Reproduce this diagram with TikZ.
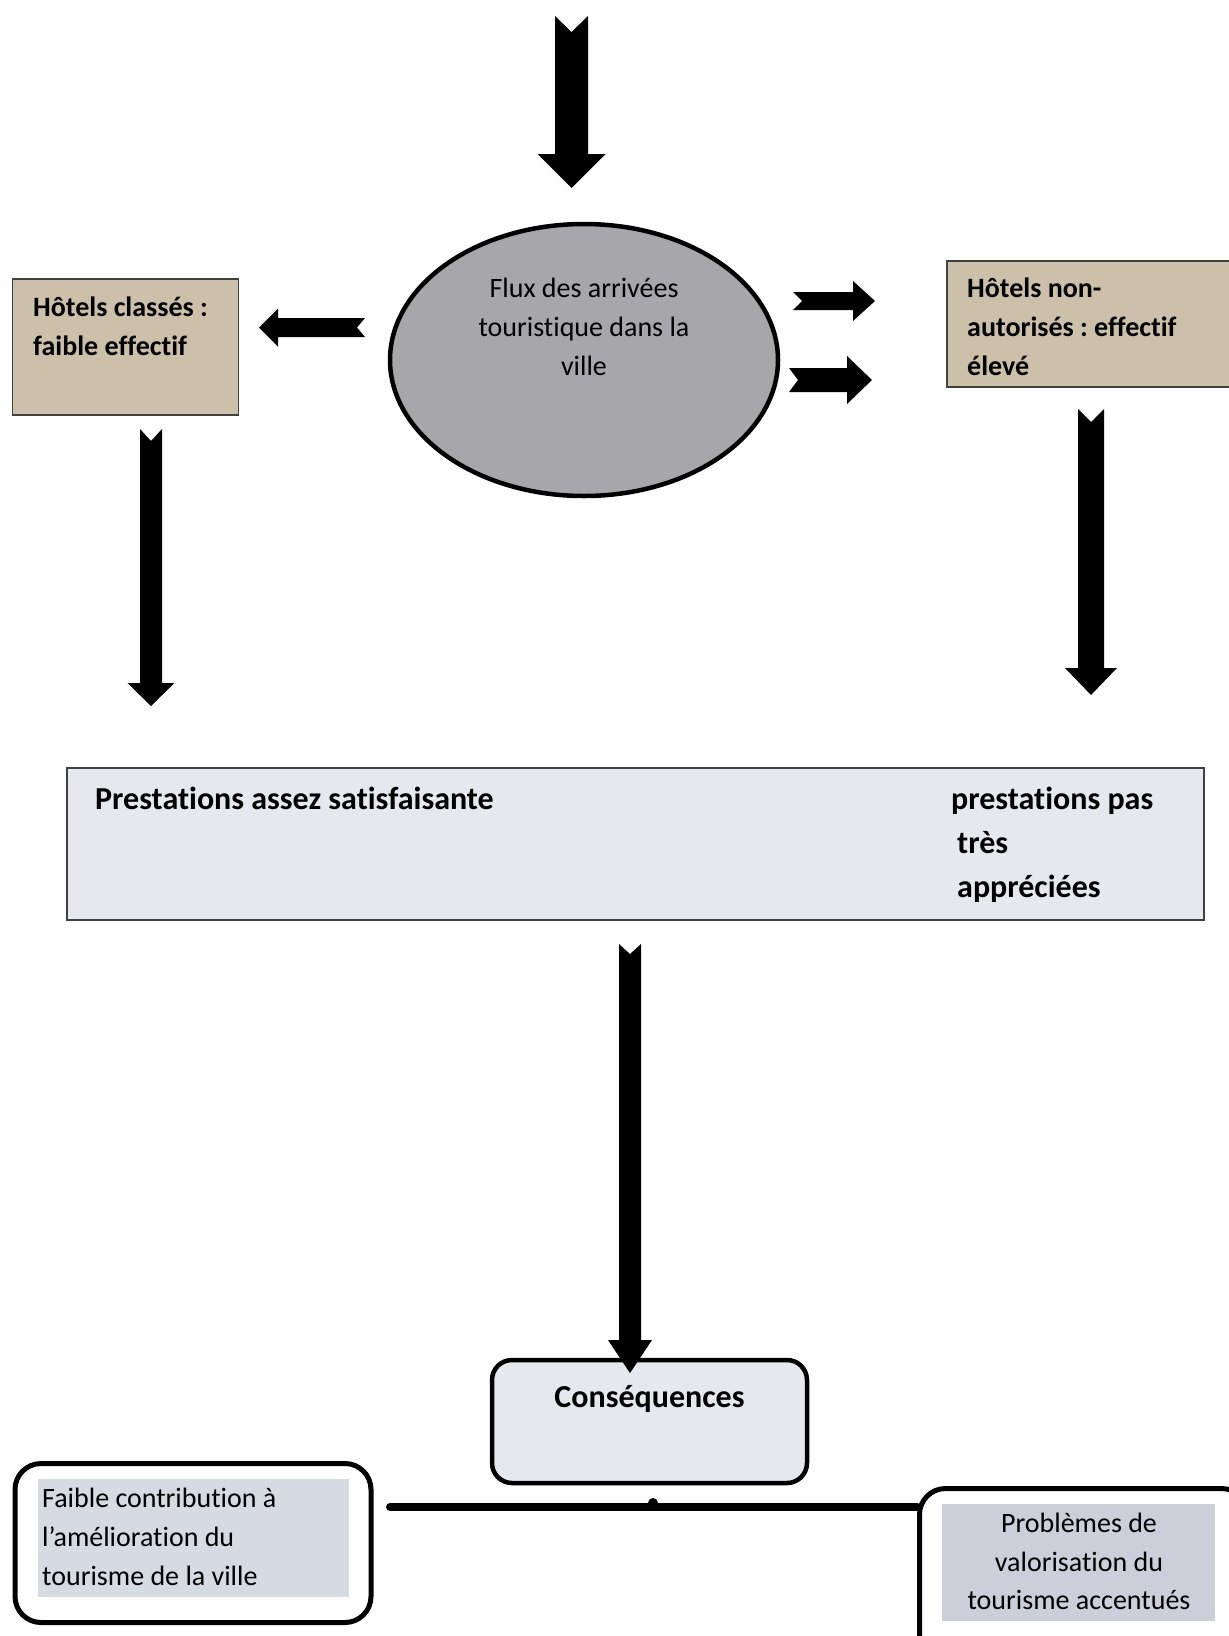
\documentclass[tikz,border=0pt]{standalone}
\usepackage{fontspec}
\setmainfont[Ligatures={NoCommon,NoRequired,NoContextual}]{Carlito}
\usetikzlibrary{shapes.geometric}
\definecolor{hoteltan}{RGB}{205,192,170}
\definecolor{ellgray}{RGB}{166,166,171}
\definecolor{lightbox}{RGB}{231,232,237}
\definecolor{innerl}{RGB}{214,218,225}
\definecolor{innerr}{RGB}{204,207,217}
\definecolor{edgegray}{RGB}{64,64,64}
\newcommand\vblockarrow[7]{%
 \fill ({#1-#4},#2) -- (#1,{#2+#7}) -- ({#1+#4},#2) -- ({#1+#4},{#3-#6}) -- ({#1+#5},{#3-#6}) -- (#1,#3) -- ({#1-#5},{#3-#6}) -- ({#1-#4},{#3-#6}) -- cycle;}
\newcommand\hblockarrow[7]{%
 \fill (#2,{#1-#4}) -- ({#2+(#7)},#1) -- (#2,{#1+#4}) -- ({#3-(#6)},{#1+#4}) -- ({#3-(#6)},{#1+#5}) -- (#3,#1) -- ({#3-(#6)},{#1-#5}) -- ({#3-(#6)},{#1-#4}) -- cycle;}
\begin{document}
\frenchspacing
\begin{tikzpicture}[x=1pt,y=-1pt,
  txt/.style={inner sep=0pt,font=\fontsize{28}{39}\selectfont},
  btxt/.style={inner sep=0pt,font=\fontsize{28}{39}\selectfont\bfseries},
  bigtxt/.style={inner sep=0pt,font=\fontsize{32}{44}\selectfont\bfseries},
  tanbox/.style={rectangle,draw=edgegray,line width=1.3pt,fill=hoteltan,inner sep=0pt},
  wideb/.style={rectangle,draw=edgegray,line width=1.2pt,fill=lightbox,inner sep=0pt},
  roundb/.style={rectangle,draw=black,rounded corners=22pt,inner sep=0pt},
  innerbox/.style={rectangle,inner sep=0pt}]
\useasboundingbox (0,0) rectangle (1229,1636);
\clip (0,0) rectangle (1229,1636);

% ellipse
\node[ellipse,draw,line width=4.5pt,fill=ellgray,minimum width=388pt,minimum height=272pt,inner sep=0pt] (flux) at (584,360) {};
\node[txt,anchor=base] (flux1) at (584,297) {Flux des arrivées};
\node[txt,anchor=base] (flux2) at (584,336) {touristique dans la};
\node[txt,anchor=base] (flux3) at (584,375) {ville};

% hotel boxes
\node[tanbox,minimum width=226pt,minimum height=136pt] (hc) at (125.75,347) {};
\node[btxt,anchor=base west] (hc1) at (33,316) {Hôtels classés :};
\node[btxt,anchor=base west] (hc2) at (33,355) {faible effectif};

\node[tanbox,minimum width=303pt,minimum height=126pt] (hn) at (1098.5,324) {};
\node[btxt,anchor=base west] (hn1) at (967,297) {Hôtels non-};
\node[btxt,anchor=base west] (hn2) at (967,336) {autorisés : effectif};
\node[btxt,anchor=base west] (hn3) at (967,375) {élevé};

% wide box
\node[wideb,minimum width=1137pt,minimum height=152pt] (prest) at (635.5,844) {};
\node[bigtxt,anchor=base west] (pa) at (95,809) {Prestations assez satisfaisante};
\node[bigtxt,anchor=base west] (pb1) at (951,809) {prestations pas};
\node[bigtxt,anchor=base west] (pb2) at (957,853) {très};
\node[bigtxt,anchor=base west] (pb3) at (957,897) {appréciées};

% consequences
\node[roundb,line width=4.5pt,fill=lightbox,rounded corners=20pt,minimum width=315pt,minimum height=123pt] (cons) at (649.5,1421.5) {};
\node[bigtxt,anchor=base] (cons1) at (649.5,1407) {Conséquences};

% bottom boxes
\node[roundb,line width=5pt,fill=white,rounded corners=26pt,minimum width=356pt,minimum height=159pt] (lb) at (193,1543) {};
\node[innerbox,fill=innerl,minimum width=311pt,minimum height=118pt] (lbi) at (193,1538) {};
\node[txt,anchor=base west] (lb1) at (42,1507) {Faible contribution à};
\node[txt,anchor=base west] (lb2) at (42,1546) {l’amélioration du};
\node[txt,anchor=base west] (lb3) at (42,1585) {tourisme de la ville};

\node[roundb,line width=5pt,fill=white,rounded corners=26pt,minimum width=328pt,minimum height=179pt] (rb) at (1083.5,1578) {};
\node[innerbox,fill=innerr,minimum width=273pt,minimum height=117pt] (rbi) at (1078.5,1562.5) {};
\node[txt,anchor=base] (rb1) at (1079,1532) {Problèmes de};
\node[txt,anchor=base] (rb2) at (1079,1571) {valorisation du};
\node[txt,anchor=base] (rb3) at (1079,1609) {tourisme accentués};

% connector between bottom boxes
\coordinate (jl) at (390,1507);
\coordinate (jm) at (653,1507);
\draw[line width=8pt,line cap=round] (jl) -- (rb.west |- jl);
\fill (jm) ++(0,-4) circle (5pt);

% block arrows
\vblockarrow{571.5}{16}{188}{16.5}{34}{34}{16}
\vblockarrow{151}{429}{706}{11}{23.5}{23}{12}
\vblockarrow{1091}{409}{695}{13}{26}{27}{13}
\vblockarrow{630}{944}{1373}{11}{22}{33}{10}
\hblockarrow{327.5}{365}{259}{9.5}{19}{-19}{-8}
\hblockarrow{301}{793}{875}{9}{20}{22}{9}
\hblockarrow{380}{789}{872}{12}{24}{25}{9}
\end{tikzpicture}
\end{document}
